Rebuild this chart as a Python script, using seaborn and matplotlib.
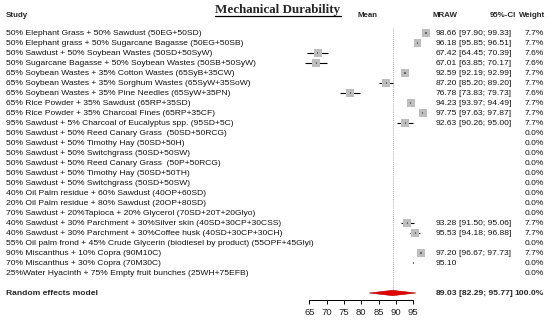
import numpy as np
import pandas as pd
import matplotlib
matplotlib.use("Agg")
import matplotlib.pyplot as plt
import matplotlib.transforms as mtransforms
from matplotlib.lines import Line2D
import seaborn as sns

studies = [
    "50% Elephant Grass + 50% Sawdust (50EG+50SD)",
    "50% Elephant grass + 50% Sugarcane Bagasse (50EG+50SB)",
    "50% Sawdust + 50% Soybean Wastes (50SD+50SyW)",
    "50% Sugarcane Bagasse + 50% Soybean Wastes (50SB+50SyW)",
    "65% Soybean Wastes + 35% Cotton Wastes (65SyB+35CW)",
    "65% Soybean Wastes + 35% Sorghum Wastes (65SyW+35SoW)",
    "65% Soybean Wastes + 35% Pine Needles (65SyW+35PN)",
    "65% Rice Powder + 35% Sawdust (65RP+35SD)",
    "65% Rice Powder + 35% Charcoal Fines (65RP+35CF)",
    "95% Sawdust + 5% Charcoal of Eucalyptus spp. (95SD+5C)",
    "50% Sawdust + 50% Reed Canary Grass  (50SD+50RCG)",
    "50% Sawdust + 50% Timothy Hay (50SD+50H)",
    "50% Sawdust + 50% Switchgrass (50SD+50SW)",
    "50% Sawdust + 50% Reed Canary Grass  (50P+50RCG)",
    "50% Sawdust + 50% Timothy Hay (50SD+50TH)",
    "50% Sawdust + 50% Switchgrass (50SD+50SW)",
    "40% Oil Palm residue + 60% Sawdust (40OP+60SD)",
    "20% Oil Palm residue + 80% Sawdust (20OP+80SD)",
    "70% Sawdust + 20%Tapioca + 20% Glycerol (70SD+20T+20Glyo)",
    "40% Sawdust + 30% Parchment + 30%Silver skin (40SD+30CP+30CSS)",
    "40% Sawdust + 30% Parchment + 30%Coffee husk (40SD+30CP+30CH)",
    "55% Oil palm frond + 45% Crude Glycerin (biodiesel by product) (55OPF+45Glyi)",
    "90% Miscanthus + 10% Copra (90M10C)",
    "70% Miscanthus + 30% Copra (70M30C)",
    "25%Water Hyacinth + 75% Empty fruit bunches (25WH+75EFB)",
]
nan = np.nan
mraw = [98.66, 96.18, 67.42, 67.01, 92.59, 87.20, 76.78, 94.23, 97.75, 92.63,
        nan, nan, nan, nan, nan, nan, nan, nan, nan,
        93.28, 95.53, nan, 97.20, 95.10, nan]
ci_lo = [97.90, 95.85, 64.45, 63.85, 92.19, 85.20, 73.83, 93.97, 97.63, 90.26,
         nan, nan, nan, nan, nan, nan, nan, nan, nan,
         91.50, 94.18, nan, 96.67, nan, nan]
ci_hi = [99.33, 96.51, 70.39, 70.17, 92.99, 89.20, 79.73, 94.49, 97.87, 95.00,
         nan, nan, nan, nan, nan, nan, nan, nan, nan,
         95.06, 96.88, nan, 97.73, nan, nan]
weight = [7.7, 7.7, 7.6, 7.6, 7.7, 7.7, 7.6, 7.7, 7.7, 7.7,
          0.0, 0.0, 0.0, 0.0, 0.0, 0.0, 0.0, 0.0, 0.0,
          7.7, 7.7, 0.0, 7.7, 0.0, 0.0]
pooled_mean, pooled_lo, pooled_hi = 89.03, 82.29, 95.77
x_ticks = [65, 70, 75, 80, 85, 90, 95]
title = "Mechanical Durability"

df = pd.DataFrame({"study": studies, "mraw": mraw, "lo": ci_lo, "hi": ci_hi,
                   "weight": weight})
df["row"] = np.arange(1, len(df) + 1)
pooled_row = len(df) + 2

sns.set_theme(style="white")
plt.rcParams["font.family"] = ["Liberation Sans", "DejaVu Sans"]

W, H = 550, 321
fig = plt.figure(figsize=(W / 100, H / 100), dpi=100)
fig.patch.set_facecolor("white")

# axes: left px 280 -> right px 460 ; bottom px 300 -> top px 25
ax = fig.add_axes([280 / W, 1 - 300 / H, 180 / W, 275 / H])
ax.set_facecolor("none")
ax.set_xlim(56.548, 108.47)
ax.set_ylim(27.7, 0.2)

# CI lines (beneath squares)
ci = df.dropna(subset=["lo", "hi"])
ax.hlines(ci["row"], ci["lo"], ci["hi"], color="black", lw=0.8, zorder=1.5)

# squares sized by weight
pts = df.dropna(subset=["mraw"])
sns.scatterplot(data=pts, x="mraw", y="row", size="weight", sizes=(0, 31),
                size_norm=(0, 7.7), marker="s", color="#BEBEBE",
                edgecolor="none", legend=False, ax=ax, zorder=2)
# point estimate
sns.scatterplot(data=pts, x="mraw", y="row", marker="s", color="#666666",
                s=0.7, edgecolor="none", legend=False, ax=ax, zorder=4)

# pooled line and diamond
ax.vlines(pooled_mean, 0.5, pooled_row, colors="#8a8a8a", lw=0.6,
          linestyles=(0, (1, 1.5)), zorder=1)
dh = 0.27
ax.fill([pooled_lo, pooled_mean, pooled_hi, pooled_mean],
        [pooled_row, pooled_row - dh, pooled_row, pooled_row + dh],
        color="#E00000", edgecolor="#B00000", lw=0.4, zorder=5)

# axis
for s in ["top", "right", "left"]:
    ax.spines[s].set_visible(False)
ax.spines["bottom"].set_bounds(x_ticks[0], x_ticks[-1])
ax.spines["bottom"].set_color("black")
ax.spines["bottom"].set_linewidth(0.7)
ax.set_xticks(x_ticks)
ax.set_xticklabels([str(t) for t in x_ticks])
ax.tick_params(axis="x", direction="out", length=3, width=0.7, color="black",
               pad=3, labelsize=6.8, labelcolor="#222222", bottom=True)
ax.set_yticks([])
ax.set_xlabel("")
ax.set_ylabel("")

trans = mtransforms.blended_transform_factory(fig.transFigure, ax.transData)
fs = 6.1
hfs = 5.7
hdr_y = -0.8

def px(x):
    return x / W

# headers
ax.text(px(6), hdr_y, "Study", transform=trans, fontsize=hfs, fontweight="bold",
        ha="left", va="center", clip_on=False)
ax.text(px(368), hdr_y, "Mean", transform=trans, fontsize=hfs, fontweight="bold",
        ha="center", va="center", clip_on=False)
ax.text(px(445), hdr_y, "MRAW", transform=trans, fontsize=hfs, fontweight="bold",
        ha="center", va="center", clip_on=False)
ax.text(px(516), hdr_y, "95%-CI", transform=trans, fontsize=hfs, fontweight="bold",
        ha="right", va="center", clip_on=False)
ax.text(px(545), hdr_y, "Weight", transform=trans, fontsize=hfs, fontweight="bold",
        ha="right", va="center", clip_on=False)

# rows
for _, r in df.iterrows():
    ax.text(px(6), r["row"], r["study"], transform=trans, fontsize=fs,
            ha="left", va="center", color="#111111", clip_on=False)
    if not np.isnan(r["mraw"]):
        ax.text(px(457), r["row"], f"{r['mraw']:.2f}", transform=trans,
                fontsize=fs, ha="right", va="center", color="#111111", clip_on=False)
    if not np.isnan(r["lo"]):
        ax.text(px(459), r["row"], f"[{r['lo']:.2f}; {r['hi']:.2f}]",
                transform=trans, fontsize=fs, ha="left", va="center",
                color="#111111", clip_on=False)
    ax.text(px(544), r["row"], f"{r['weight']:.1f}%", transform=trans,
            fontsize=fs, ha="right", va="center", color="#111111", clip_on=False)

# pooled row
ax.text(px(6), pooled_row, "Random effects model", transform=trans, fontsize=fs,
        fontweight="bold", ha="left", va="center", clip_on=False)
ax.text(px(457), pooled_row, f"{pooled_mean:.2f}", transform=trans, fontsize=fs,
        fontweight="bold", ha="right", va="center", clip_on=False)
ax.text(px(459), pooled_row, f"[{pooled_lo:.2f}; {pooled_hi:.2f}]", transform=trans,
        fontsize=fs, fontweight="bold", ha="left", va="center", clip_on=False)
ax.text(px(544), pooled_row, "100.0%", transform=trans, fontsize=fs,
        fontweight="bold", ha="right", va="center", clip_on=False)

# title
t = fig.text(px(278), 1 - 9.5 / H, title, fontsize=9.4, fontweight="bold",
             family=["Liberation Serif", "DejaVu Serif"], ha="center", va="center")
fig.canvas.draw()
bb = t.get_window_extent()
uy = 1 - 15.5 / H
fig.add_artist(Line2D([bb.x0 / W, bb.x1 / W], [uy, uy], color="black", lw=0.9,
                      transform=fig.transFigure))

fig.savefig("out.png", dpi=100, facecolor="white")
